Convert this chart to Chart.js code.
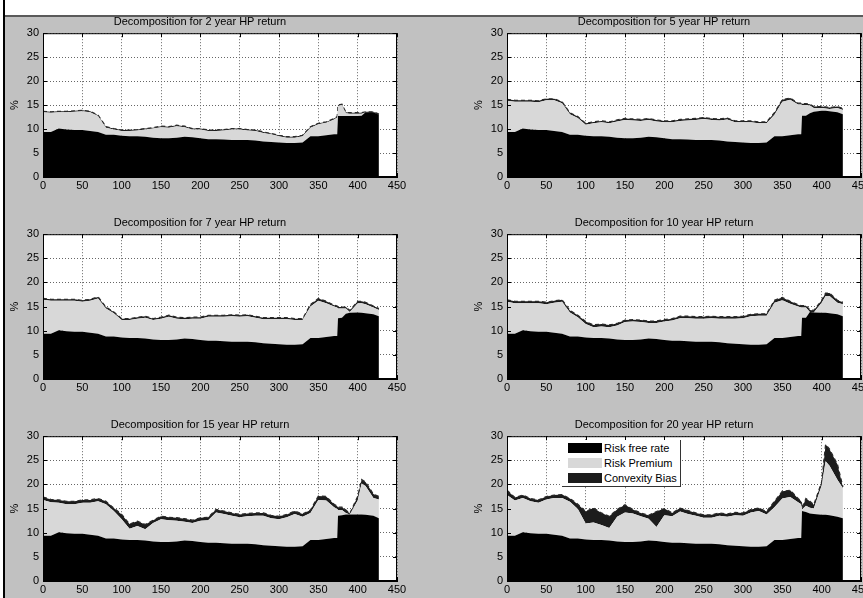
<!DOCTYPE html>
<html>
<head>
<meta charset="utf-8">
<script src="https://cdn.jsdelivr.net/npm/chart.js@4/dist/chart.umd.min.js"></script>
<style>
  body { margin: 0; width: 863px; height: 598px; overflow: hidden; background: #fff; position: relative;
         font-family: "Liberation Sans", Arial, sans-serif; }
  #fig { position: absolute; left: 5px; top: 15px; right: 0; bottom: 0; background: #c1c1c1; border-top: 2px solid #5a5a5a; }
  #edge { position: absolute; left: 3px; top: 0; width: 2px; bottom: 0; background: #000; }
  canvas { position: absolute; }
  #legend { position: absolute; left: 562px; top: 440px; width: 118px; height: 46px; background: #fff;
            border-right: 1px solid #333; border-bottom: 1px solid #333; z-index: 5; font-size: 11px; }
  #legend div { position: relative; height: 14px; line-height: 14px; margin-top: 1px; }
  #legend span.sw { position: absolute; left: 6px; top: 2px; width: 34px; height: 10px; }
  #legend span.tx { position: absolute; left: 42px; top: 0; white-space: nowrap; }
</style>
</head>
<body>
<div id="fig"></div>
<div id="edge"></div>
<div id="legend"></div>
<script>
// x positions (observation number)
const months = [0,10,20,30,40,50,60,70,80,90,100,110,120,130,140,150,160,170,180,190,
  200,210,220,230,240,250,260,270,280,290,300,310,320,330,340,350,360,370,
  374,375,380,385,390,400,405,410,420,427];

// risk free rate, common part (0..370)
const riskFreeBase = [9.4,9.4,10.1,9.9,9.8,9.8,9.6,9.4,8.8,8.8,8.6,8.5,8.5,8.4,8.2,8.1,8.1,8.2,8.4,8.3,
  8.1,7.9,7.9,7.8,7.7,7.7,7.7,7.6,7.4,7.3,7.2,7.1,7.1,7.2,8.5,8.5,8.7,8.9];
// risk free rate, end of sample (374..427)
const rfTail2  = [8.9,12.7,12.7,12.7,12.7,12.7,12.8,13.5,13.5,13.0];
const rfTail5  = [8.9,12.8,12.8,13.3,13.6,13.8,13.8,13.7,13.5,13.1];
const rfTail7  = [8.9,12.6,12.7,13.5,13.7,13.8,13.7,13.6,13.4,13.0];
const rfTail10 = [8.9,12.7,12.7,13.9,13.8,13.7,13.7,13.6,13.4,13.0];
const rfTail15 = [8.9,13.5,13.6,13.8,13.8,13.8,13.8,13.7,13.5,13.0];
const rfTail20 = [8.9,14.5,14.3,14.0,13.9,13.7,13.7,13.6,13.3,13.0];

const prem2 = [4.1,4.0,3.4,3.6,3.8,3.9,3.9,3.3,1.5,1.1, 1.0,1.1,1.2,1.5,1.9,2.3,2.2,2.4,2.0,1.6,
  1.8,1.7,1.7,1.9,2.2,2.2,2.0,2.0,1.8,1.6, 1.3,1.1,1.1,1.3,1.8,2.5,2.6,3.1,
  3.5,2.1,2.3,0.6,0.5,0.5,0.4,0.0,0.0,0.0];
const prem5 = [6.5,6.3,5.6,5.8,5.8,6.2,6.4,6.0,4.3,3.5, 2.3,2.7,2.9,2.8,3.4,3.8,3.7,3.5,3.5,3.3,
  3.3,3.5,3.8,4.0,4.2,4.4,4.2,4.2,4.6,4.1, 4.2,4.3,4.1,4.0,4.5,7.2,7.4,6.2,
  6.2,2.2,2.2,1.6,0.8,0.6,0.5,0.5,0.9,0.9];
const prem7 = [7.0,6.8,6.1,6.3,6.4,6.2,6.6,7.3,5.8,4.8, 3.6,3.7,4.0,4.3,4.0,4.4,4.8,4.3,4.0,4.2,
  4.4,5.0,5.0,5.1,5.3,5.2,5.3,5.1,5.0,5.1, 5.2,5.3,5.1,5.0,6.5,7.7,7.0,6.1,
  5.9,2.0,1.9,1.1,0.2,1.9,2.0,1.9,1.4,1.3];
const prem10 = [6.6,6.3,5.6,5.8,5.9,5.7,6.2,6.6,5.0,4.0, 2.8,2.2,2.4,2.3,2.9,3.7,3.8,3.6,3.2,3.3,
  3.8,4.2,4.7,4.8,4.8,4.8,4.9,4.9,5.1,5.2, 5.4,5.9,6.0,5.9,7.3,7.8,6.9,6.1,
  5.9,2.1,2.1,0.0,0.0,2.1,3.5,3.6,2.4,2.5];
const prem15 = [7.4,6.9,6.1,6.0,6.1,6.4,6.6,7.1,7.1,5.7, 4.2,2.3,2.9,2.3,3.8,4.7,4.5,4.3,3.9,3.7,
  4.4,4.7,6.3,6.1,5.8,5.5,5.7,5.9,6.1,5.7, 5.6,6.1,6.8,6.1,5.6,8.3,8.0,6.4,
  6.0,1.2,1.1,0.3,0.0,2.9,6.4,6.0,3.7,3.9];
const prem20 = [8.4,7.3,7.1,6.6,6.4,7.1,7.6,7.8,7.6,6.1, 3.3,3.6,3.1,2.6,5.1,6.1,5.9,5.2,4.5,2.9,
  5.5,5.5,6.5,6.1,5.8,5.4,5.4,5.9,5.9,6.3, 6.3,7.1,7.4,6.6,6.8,8.6,8.7,7.4,
  7.0,0.3,1.3,1.2,1.1,6.1,11.1,10.3,7.7,6.2];

const conv2 = [0.2,0.2,0.2,0.2,0.2,0.2,0.2,0.2,0.2,0.2, 0.2,0.2,0.2,0.2,0.2,0.2,0.2,0.2,0.2,0.2,
  0.2,0.2,0.2,0.2,0.2,0.2,0.2,0.2,0.2,0.2, 0.2,0.2,0.2,0.2,0.2,0.2,0.2,0.2,
  0.2,0.2,0.2,0.2,0.2,0.2,0.2,0.1,0.1,0.1];
const conv5 = [0.3,0.3,0.3,0.3,0.3,0.3,0.3,0.3,0.3,0.3, 0.3,0.3,0.3,0.3,0.3,0.3,0.3,0.3,0.3,0.3,
  0.3,0.3,0.3,0.3,0.3,0.3,0.3,0.3,0.3,0.3, 0.3,0.3,0.3,0.3,0.4,0.4,0.4,0.3,
  0.3,0.3,0.3,0.3,0.3,0.3,0.3,0.3,0.3,0.3];
const conv7 = [0.3,0.3,0.3,0.3,0.3,0.3,0.3,0.3,0.3,0.3, 0.3,0.3,0.3,0.3,0.3,0.3,0.3,0.3,0.3,0.3,
  0.3,0.3,0.3,0.3,0.3,0.3,0.3,0.3,0.3,0.3, 0.3,0.3,0.3,0.3,0.4,0.5,0.4,0.3,
  0.3,0.3,0.3,0.3,0.3,0.4,0.4,0.4,0.3,0.3];
const conv10 = [0.4,0.4,0.4,0.4,0.4,0.4,0.4,0.4,0.4,0.4, 0.5,0.5,0.5,0.5,0.4,0.4,0.4,0.4,0.4,0.4,
  0.4,0.4,0.4,0.4,0.4,0.4,0.4,0.4,0.4,0.4, 0.4,0.4,0.4,0.4,0.5,0.6,0.5,0.4,
  0.4,0.4,0.4,0.4,0.4,0.5,0.6,0.6,0.5,0.4];
const conv15 = [0.6,0.6,0.6,0.6,0.6,0.6,0.6,0.6,0.6,0.6, 1.0,1.0,1.0,1.0,0.6,0.6,0.6,0.6,0.6,0.6,
  0.6,0.6,0.6,0.6,0.6,0.6,0.6,0.6,0.6,0.6, 0.6,0.6,0.6,0.6,0.6,0.8,0.8,0.6,
  0.6,0.6,0.6,0.6,0.2,0.8,0.8,0.8,0.8,0.6];
const conv20 = [1.0,0.6,0.6,0.6,0.6,0.6,0.6,0.7,0.7,1.0, 2.5,3.0,2.5,2.4,1.5,1.6,0.8,0.7,0.7,3.2,
  1.4,0.7,0.7,0.7,0.6,0.6,0.6,0.6,0.6,0.6, 0.6,0.6,0.6,0.6,1.2,1.5,1.4,0.8,
  0.6,0.3,1.5,1.3,0.8,0.7,3.5,3.4,3.2,0.3];

const horizons = [2, 5, 7, 10, 15, 20];
const seriesNames = ['Risk free rate', 'Risk Premium', 'Convexity Bias'];
const xTicks = [0, 450, 50];
const yTicks = [0, 30, 5];

// panel layout: left/top of the plot box and its height
const panels = [
  { rf: rfTail2,  prem: prem2,  conv: conv2,  left: 43,  top: 33,  h: 144 },
  { rf: rfTail5,  prem: prem5,  conv: conv5,  left: 507, top: 33,  h: 144 },
  { rf: rfTail7,  prem: prem7,  conv: conv7,  left: 43,  top: 234, h: 145 },
  { rf: rfTail10, prem: prem10, conv: conv10, left: 507, top: 234, h: 145 },
  { rf: rfTail15, prem: prem15, conv: conv15, left: 43,  top: 436, h: 145 },
  { rf: rfTail20, prem: prem20, conv: conv20, left: 507, top: 436, h: 145 }
];
const colors = ['#000000', '#d8d8d8', '#1c1c1c'];

Chart.defaults.font.family = '"Liberation Sans", Arial, sans-serif';
Chart.defaults.font.size = 11;
Chart.defaults.color = '#000';

const YW = 40, XH = 20, TH = 18, PW = 354;

const frame = {
  id: 'frame',
  beforeDraw(chart) {
    const { ctx, chartArea: a } = chart;
    ctx.save();
    ctx.fillStyle = '#fff';
    ctx.fillRect(a.left, a.top, a.width, a.height);
    ctx.restore();
  },
  afterDraw(chart) {
    const { ctx, chartArea: a, scales } = chart;
    ctx.save();
    ctx.strokeStyle = '#000';
    ctx.lineWidth = 1;
    ctx.strokeRect(a.left + 0.5, a.top + 0.5, a.width - 1, a.height - 1);
    ctx.beginPath();
    scales.x.ticks.forEach(t => {
      const px = Math.round(scales.x.getPixelForValue(t.value)) + 0.5;
      ctx.moveTo(px, a.bottom); ctx.lineTo(px, a.bottom - 4);
      ctx.moveTo(px, a.top); ctx.lineTo(px, a.top + 4);
    });
    scales.y.ticks.forEach(t => {
      const py = Math.round(scales.y.getPixelForValue(t.value)) + 0.5;
      ctx.moveTo(a.left, py); ctx.lineTo(a.left + 4, py);
      ctx.moveTo(a.right, py); ctx.lineTo(a.right - 4, py);
    });
    ctx.stroke();
    ctx.restore();
  }
};

function pts(arr) {
  return months.map((m, i) => ({ x: m, y: arr[i] }));
}

panels.forEach((p, k) => {
  const cv = document.createElement('canvas');
  const w = YW + PW + YW, h = TH + p.h + XH;
  cv.width = w; cv.height = h;
  cv.style.left = (p.left - YW) + 'px';
  cv.style.top = (p.top - TH) + 'px';
  document.body.appendChild(cv);

  const rf = riskFreeBase.concat(p.rf);
  new Chart(cv.getContext('2d'), {
    type: 'line',
    data: {
      datasets: [
        { label: seriesNames[0], data: pts(rf), backgroundColor: colors[0], borderWidth: 0, fill: 'origin' },
        { label: seriesNames[1], data: pts(p.prem), backgroundColor: colors[1], borderWidth: 0, fill: '-1' },
        { label: seriesNames[2], data: pts(p.conv), backgroundColor: colors[2], borderColor: '#2a2a2a',
          borderWidth: 1.3, borderDash: [4, 3], fill: '-1' }
      ]
    },
    options: {
      responsive: false,
      animation: false,
      devicePixelRatio: 1,
      elements: { point: { radius: 0 }, line: { tension: 0 } },
      layout: { padding: { left: 0, right: YW, top: 0, bottom: 0 } },
      plugins: {
        legend: { display: false },
        tooltip: { enabled: false },
        title: {
          display: true,
          text: 'Decomposition for ' + horizons[k] + ' year HP return',
          font: { size: 11, weight: 'normal' },
          color: '#000',
          padding: { top: 0, bottom: 5 }
        }
      },
      scales: {
        x: {
          type: 'linear', min: xTicks[0], max: xTicks[1],
          ticks: { stepSize: xTicks[2], padding: 2, maxRotation: 0 },
          grid: { color: '#666', drawTicks: false },
          border: { display: true, color: '#000', dash: [1, 2] },
          afterFit: s => { s.height = XH; }
        },
        y: {
          stacked: true, min: yTicks[0], max: yTicks[1],
          ticks: { stepSize: yTicks[2], padding: 4 },
          grid: { color: '#666', drawTicks: false },
          border: { display: true, color: '#000', dash: [1, 2] },
          title: { display: true, text: '%', font: { size: 11 }, padding: { top: 5, bottom: 0 } },
          afterFit: s => { s.width = YW; }
        }
      }
    },
    plugins: [frame]
  });
});

// legend box of the last panel
const lg = document.getElementById('legend');
seriesNames.forEach((n, i) => {
  const row = document.createElement('div');
  row.innerHTML = '<span class="sw" style="background:' + colors[i] + '"></span><span class="tx">' + n + '</span>';
  lg.appendChild(row);
});
</script>
</body>
</html>
